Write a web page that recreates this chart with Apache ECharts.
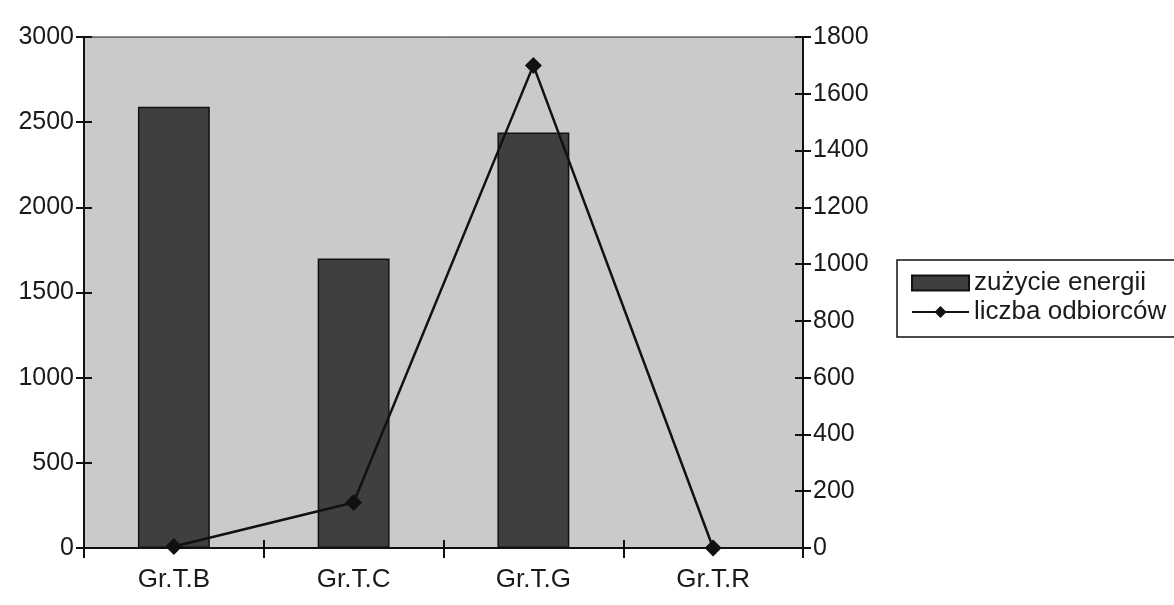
<!DOCTYPE html>
<html>
<head>
<meta charset="utf-8">
<script src="https://cdn.jsdelivr.net/npm/echarts@6/dist/echarts.min.js"></script>
<style>
  html, body { margin: 0; padding: 0; background: #fff; }
  #chart { width: 1174px; height: 605px; }
</style>
</head>
<body>
<div id="chart"></div>
<script>
// groups of customers
var groups = ['Gr.T.B', 'Gr.T.C', 'Gr.T.G', 'Gr.T.R']
// energy use (left axis)
var energy = [2590, 1700, 2440, 0]
// number of customers (right axis)
var customers = [5, 160, 1700, 0]

var leftTicks = { min: 0, max: 3000, interval: 500 }
var rightTicks = { min: 0, max: 1800, interval: 200 }

var font = 'Liberation Sans, Arial, sans-serif'
var ink = '#111'
var chart = echarts.init(document.getElementById('chart'))

function plain (v) { return String(v) }

// value axis, ticks outside or (hidden copy) inside so ticks cross the line
function valAxis (rng, pos, inside) {
  return {
    type: 'value',
    position: pos,
    min: rng.min,
    max: rng.max,
    interval: rng.interval,
    splitLine: { show: false },
    axisLine: { show: !inside, lineStyle: { color: ink, width: 2 } },
    axisTick: { show: true, inside: inside, length: 8, lineStyle: { color: ink, width: 2 } },
    axisLabel: { show: !inside, fontSize: 25, color: '#1a1a1a', margin: 10, formatter: plain }
  }
}

var option = {
  animation: false,
  backgroundColor: '#ffffff',
  textStyle: { fontFamily: font, color: '#1a1a1a' },
  grid: {
    left: 84,
    right: 371,
    top: 37,
    bottom: 57,
    show: true,
    backgroundColor: '#cacaca',
    borderColor: '#222',
    borderWidth: 1
  },
  legend: {
    orient: 'vertical',
    left: 897,
    top: 260,
    padding: [10, 20, 12, 14],
    itemGap: 3,
    itemWidth: 57,
    itemHeight: 15,
    borderColor: ink,
    borderWidth: 1.5,
    textStyle: { fontFamily: font, fontSize: 26, color: '#1a1a1a' },
    data: [
      { name: 'zużycie energii', icon: 'rect' },
      { name: 'liczba odbiorców' }
    ]
  },
  xAxis: [
    {
      type: 'category',
      data: groups,
      axisLine: { lineStyle: { color: ink, width: 2 } },
      axisTick: { show: true, length: 10, lineStyle: { color: ink, width: 2 } },
      axisLabel: { fontSize: 26, color: '#1a1a1a', margin: 19 }
    },
    {
      type: 'category',
      data: groups,
      position: 'bottom',
      axisLine: { show: false },
      axisTick: { show: true, inside: true, length: 8, lineStyle: { color: ink, width: 2 } },
      axisLabel: { show: false }
    }
  ],
  yAxis: [
    valAxis(leftTicks, 'left', false),
    valAxis(rightTicks, 'right', false),
    valAxis(leftTicks, 'left', true),
    valAxis(rightTicks, 'right', true)
  ],
  series: [
    {
      name: 'zużycie energii',
      type: 'bar',
      data: energy,
      barWidth: '40%',
      itemStyle: { color: '#3f3f3f', borderColor: ink, borderWidth: 1.5 }
    },
    {
      name: 'liczba odbiorców',
      type: 'line',
      yAxisIndex: 1,
      data: customers,
      symbol: 'diamond',
      symbolSize: 17,
      lineStyle: { color: ink, width: 2.5 },
      itemStyle: { color: ink }
    }
  ]
}

chart.setOption(option)
</script>
</body>
</html>
